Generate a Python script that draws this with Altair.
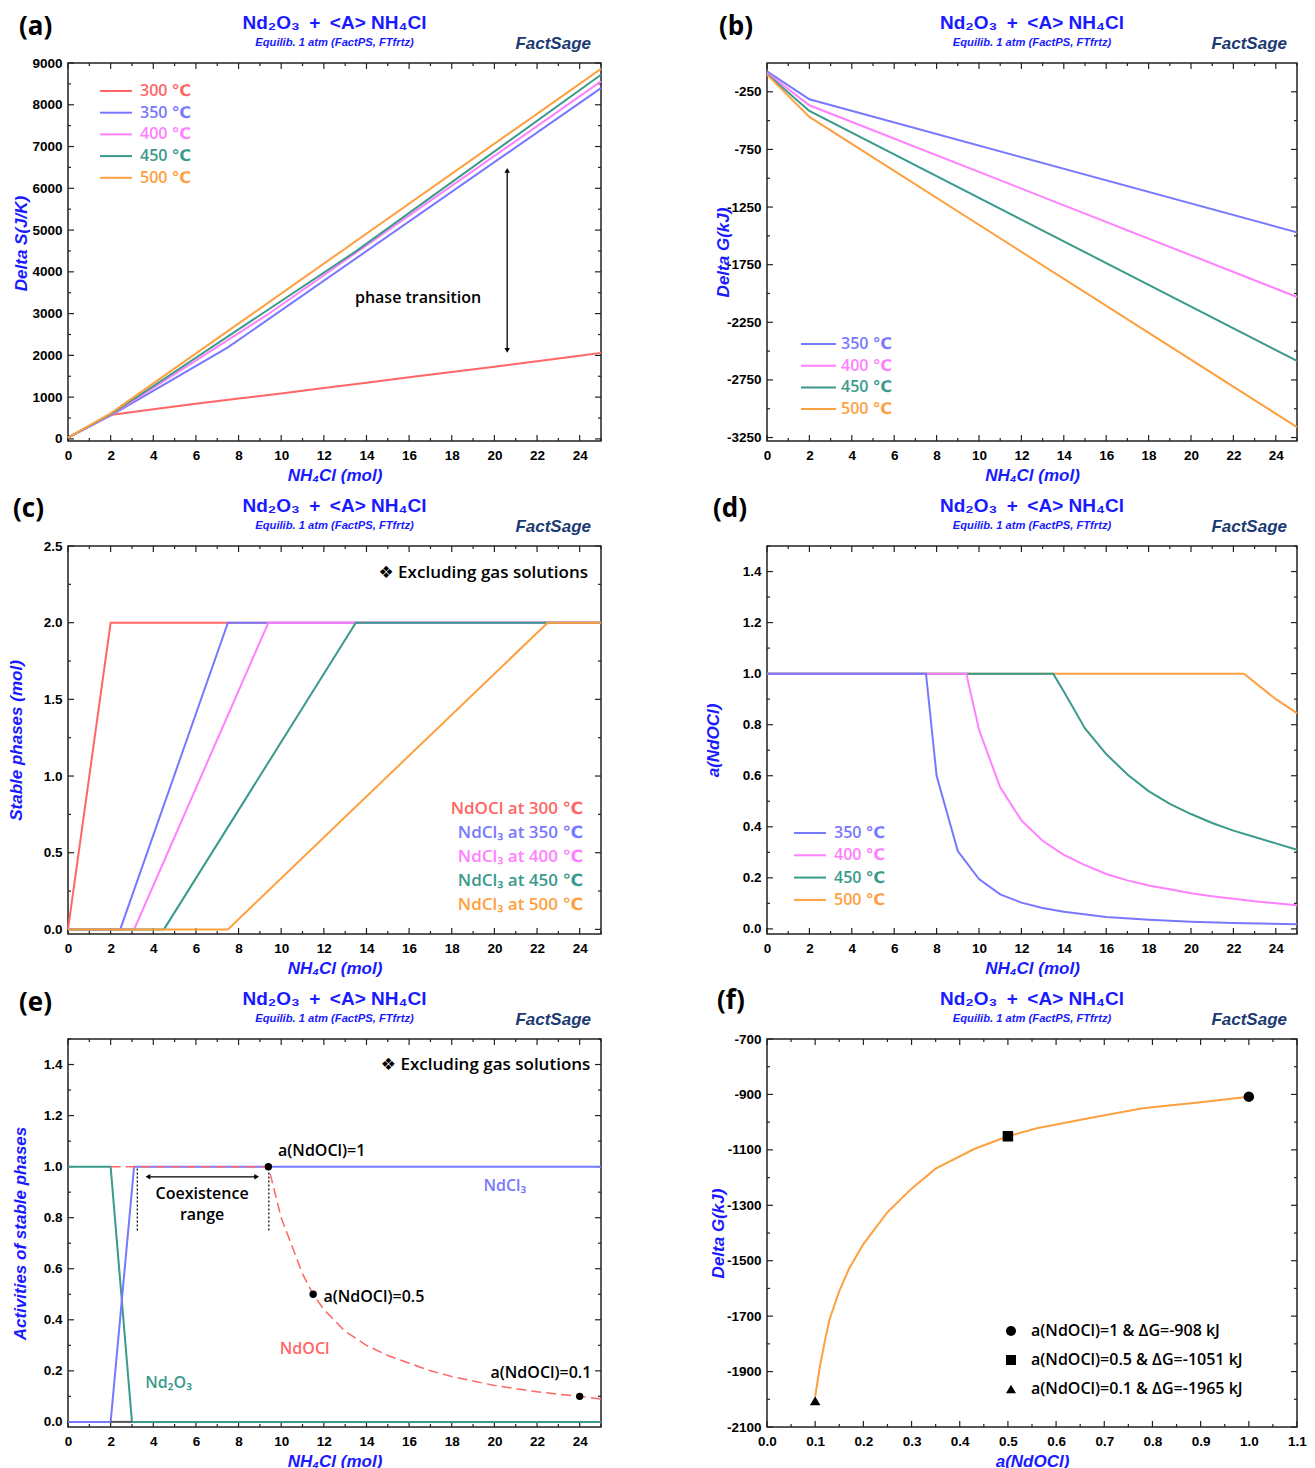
import altair as alt
import pandas as pd

# ---------------- data ----------------
TEMPS = ["300 ℃", "350 ℃", "400 ℃", "450 ℃", "500 ℃"]
COLORS = ["#ff6666", "#7878ff", "#ff80ff", "#3a9a8c", "#ffa040"]

# (a) Delta S (J/K) vs NH4Cl (mol)
A_X_300 = [0, 2, 4, 6, 8, 10, 12, 14, 16, 18, 20, 22, 24, 25]
A_S_300 = [30, 575, 710, 840, 965, 1090, 1220, 1345, 1475, 1600, 1730, 1860, 1990, 2060]
A_X_350 = [0, 2, 7.5, 25]
A_S_350 = [30, 560, 2190, 8400]
A_X_400 = [0, 2, 9.4, 25]
A_S_400 = [30, 570, 2990, 8560]
A_X_450 = [0, 2, 13.5, 25]
A_S_450 = [30, 585, 4490, 8720]
A_X_500 = [0, 2, 25]
A_S_500 = [30, 610, 8860]
A_ARROW_X = [20.6]
A_ARROW_Y = [2120, 6430]

# (b) Delta G (kJ) vs NH4Cl (mol)
B_X = [0, 2, 25]
B_G_350 = [-72, -315, -1470]
B_G_400 = [-85, -367, -2030]
B_G_450 = [-95, -416, -2585]
B_G_500 = [-101, -468, -3160]

# (c) stable phases (mol)
C_X_300 = [0, 2, 25]
C_N_300 = [0, 2, 2]
C_X_350 = [0, 2.45, 7.5, 25]
C_X_400 = [0, 3.1, 9.4, 25]
C_X_450 = [0, 4.5, 13.5, 25]
C_X_500 = [0, 7.5, 22.5, 25]
C_N_CL3 = [0, 0, 2, 2]
C_LABELS = ["NdOCl at 300 ℃", "NdCl₃ at 350 ℃", "NdCl₃ at 400 ℃", "NdCl₃ at 450 ℃", "NdCl₃ at 500 ℃"]

# (d) a(NdOCl)
D_X_350 = [0, 7.5, 8, 9, 10, 11, 12, 13, 14, 16, 18, 20, 22, 25]
D_A_350 = [1, 1, 0.6, 0.305, 0.195, 0.135, 0.103, 0.082, 0.067, 0.047, 0.036, 0.028, 0.023, 0.018]
D_X_400 = [0, 9.4, 10, 11, 12, 13, 14, 15, 16, 17, 18, 19, 20, 21, 22, 23, 24, 25]
D_A_400 = [1, 1, 0.78, 0.555, 0.425, 0.345, 0.29, 0.25, 0.215, 0.19, 0.17, 0.155,
           0.14, 0.128, 0.118, 0.108, 0.1, 0.093]
D_X_450 = [0, 13.5, 14, 15, 16, 17, 18, 19, 20, 21, 22, 23, 24, 25]
D_A_450 = [1, 1, 0.93, 0.785, 0.685, 0.605, 0.54, 0.49, 0.45, 0.415, 0.385, 0.36, 0.335, 0.31]
D_X_500 = [0, 22.5, 24, 25]
D_A_500 = [1, 1, 0.9, 0.845]

# (e) activities of stable phases at 400 C
E_X_ND2O3 = [0, 2, 3, 25]
E_A_ND2O3 = [1, 1, 0, 0]
E_X_NDCL3 = [0, 2, 3.1, 25]
E_A_NDCL3 = [0, 0, 1, 1]
E_X_OTHER = [2, 3]
E_A_OTHER = [0, 0]
E_X_NDOCL = [2, 9.4, 10, 11, 11.5, 12, 13, 14, 15, 16, 17, 18, 19, 20, 21, 22, 23, 24, 25]
E_A_NDOCL = [1, 1, 0.8, 0.58, 0.5, 0.44, 0.355, 0.3, 0.26, 0.23, 0.2, 0.178, 0.16,
             0.143, 0.13, 0.118, 0.108, 0.1, 0.09]
E_DOT_X = [9.4, 11.5, 24]
E_DOT_A = [1.0, 0.5, 0.1]
E_DOT_LABELS = ["a(NdOCl)=1", "a(NdOCl)=0.5", "a(NdOCl)=0.1"]
E_MARK_X = [3.25, 9.42]
E_MARK_A = [0.75, 1.0]
E_ARROW_X = [3.75, 8.85]
E_ARROW_A = [0.96]

# (f) Delta G vs a(NdOCl)
F_A = [0.1, 0.11, 0.12, 0.13, 0.15, 0.17, 0.2, 0.25, 0.3, 0.35, 0.43, 0.5, 0.56, 0.67, 0.78, 0.9, 1.0]
F_G = [-1990, -1880, -1790, -1710, -1610, -1530, -1440, -1325, -1240, -1168, -1097,
       -1051, -1022, -985, -950, -928, -908]
F_MARK_A = [1.0, 0.5, 0.1]
F_MARK_G = [-908, -1051, -2005]
F_MARK_SHAPES = ["circle", "square", "triangle-up"]
F_LABELS = ["a(NdOCl)=1 & ΔG=-908 kJ", "a(NdOCl)=0.5 & ΔG=-1051 kJ", "a(NdOCl)=0.1 & ΔG=-1965 kJ"]

TITLE = "Nd₂O₃\u2002+\u2002<A> NH₄Cl"
SUBTITLE = "Equilib. 1 atm (FactPS, FTfrtz)"
X_TITLE = "NH₄Cl (mol)"
EXCL = "❖ Excluding gas solutions"

# ---------------- style ----------------
BLUE = "#1a1aff"
NAVY = "#1b3a73"
AXF = "Liberation Sans"
TXF = "Open Sans, DejaVu Sans"
TXW = 600
W1, W2 = 533, 530
H1, H2, H3 = 378, 388, 388


class Panel:
    def __init__(self, W, H, xd, yd, xmaj, ymaj, xfmt, yfmt, xtitle, ytitle, ytx, yty=None):
        self.W, self.H = W, H
        self.xs = alt.Scale(domain=xd, nice=False, zero=False)
        self.ys = alt.Scale(domain=yd, nice=False, zero=False)
        common = dict(ticks=False, domain=False, grid=False, labelFont=AXF, labelFontSize=13.5,
                      labelFontWeight="bold", labelColor="black", labelFlush=False,
                      labelOverlap=False, titleFont=AXF, titleFontSize=17,
                      titleFontWeight="bold", titleFontStyle="italic", titleColor=BLUE,
                      titleAlign="center", titleBaseline="middle")
        xkw = dict(format=xfmt) if xfmt else dict(labelExpr="'' + datum.value")
        ykw = dict(format=yfmt) if yfmt else dict(labelExpr="'' + datum.value")
        self.xaxis = alt.Axis(values=xmaj, labelPadding=7, title=xtitle,
                              titleX=W / 2, titleY=34, **xkw, **common)
        self.yaxis = alt.Axis(values=ymaj, labelPadding=6, title=ytitle,
                              titleX=ytx, titleY=(H / 2 if yty is None else yty),
                              titleAngle=270, **ykw, **common)
        self.layers = []

    def X(self, f="x"):
        return alt.X(f + ":Q", scale=self.xs, axis=self.xaxis)

    def Y(self, f="y"):
        return alt.Y(f + ":Q", scale=self.ys, axis=self.yaxis)

    def line(self, xs, ys, color, dash=None, width=2):
        kw = dict(color=color, strokeWidth=width)
        if dash:
            kw["strokeDash"] = dash
        df = pd.DataFrame({"x": xs, "y": ys})
        self.layers.append(alt.Chart(df).mark_line(**kw).encode(x=self.X(), y=self.Y()))

    def ticks(self, xmaj, xmin, ymaj, ymin):
        H = self.H
        for vals, L in ((xmaj, 6), (xmin, 3)):
            df = pd.DataFrame({"x": vals})
            for y0, y1 in ((H, H - L), (0, L)):
                self.layers.append(alt.Chart(df).mark_rule(color="#222", strokeWidth=1.2).encode(
                    x=self.X(), y=alt.value(y0), y2=alt.value(y1)))
        W = self.W
        for vals, L in ((ymaj, 6), (ymin, 3)):
            df = pd.DataFrame({"y": vals})
            for x0, x1 in ((0, L), (W, W - L)):
                self.layers.append(alt.Chart(df).mark_rule(color="#222", strokeWidth=1.2).encode(
                    y=self.Y(), x=alt.value(x0), x2=alt.value(x1)))

    def text_px(self, text, x, y, color="black", size=16, align="left", font=TXF,
                weight=TXW, style="normal"):
        df = pd.DataFrame({"t": [text]})
        self.layers.append(alt.Chart(df).mark_text(
            align=align, baseline="middle", color=color, fontSize=size, font=font,
            fontWeight=weight, fontStyle=style).encode(x=alt.value(x), y=alt.value(y), text="t:N"))

    def text_data(self, text, x, y, color="black", size=16, align="left", font=TXF,
                  weight=TXW):
        df = pd.DataFrame({"x": [x], "y": [y], "t": [text]})
        self.layers.append(alt.Chart(df).mark_text(
            align=align, baseline="middle", color=color, fontSize=size, font=font,
            fontWeight=weight).encode(x=self.X(), y=self.Y(), text="t:N"))

    def legend_line(self, x1, x2, y, color):
        df = pd.DataFrame({"v": [0]})
        self.layers.append(alt.Chart(df).mark_rule(color=color, strokeWidth=2).encode(
            x=alt.value(x1), x2=alt.value(x2), y=alt.value(y)))

    def header(self, letter, lx, ly=-36):
        self.text_px(letter, lx, ly, size=26, weight="bold")
        self.text_px(TITLE, self.W / 2, -40, color=BLUE, size=19, align="center", font=AXF,
                     weight="bold")
        self.text_px(SUBTITLE, self.W / 2, -20, color=BLUE, size=11.2, align="center", font=AXF,
                     weight="bold", style="italic")
        self.text_px("FactSage", self.W - 10, -19, color=NAVY, size=17, align="right", font=AXF,
                     weight="bold", style="italic")

    def chart(self):
        return alt.layer(*self.layers).properties(width=self.W, height=self.H)


def rng(a, b, s):
    out, v = [], a
    while (s > 0 and v <= b + 1e-9) or (s < 0 and v >= b - 1e-9):
        out.append(round(v, 4))
        v += s
    return out


XMAJ = rng(0, 24, 2)
XMIN = rng(1, 25, 2)

# ---------------- panel (a) ----------------
pa = Panel(W1, H1, [0, 25], [-50, 9000], XMAJ, rng(0, 9000, 1000), "d", "d", X_TITLE,
           "Delta S(J/K)", -47, 180)
pa.ticks(XMAJ, XMIN, rng(0, 9000, 1000), rng(500, 8500, 1000))
for xs, ys, c in zip([A_X_300, A_X_350, A_X_400, A_X_450, A_X_500],
                     [A_S_300, A_S_350, A_S_400, A_S_450, A_S_500], COLORS):
    pa.line(xs, ys, c)
for i, (t, c) in enumerate(zip(TEMPS, COLORS)):
    yy = 28 + 21.7 * i
    pa.legend_line(32, 64, yy, c)
    pa.text_px(t, 72, yy, color=c, size=16)
pa.text_data("phase transition", 16.42, 3381, align="center", size=16)
arr = pd.DataFrame({"x": A_ARROW_X, "y": [A_ARROW_Y[0]], "y2": [A_ARROW_Y[1]]})
pa.layers.append(alt.Chart(arr).mark_rule(color="black", strokeWidth=1.3).encode(
    x=pa.X(), y=pa.Y(), y2="y2:Q"))
pa.layers.append(alt.Chart(pd.DataFrame({"x": A_ARROW_X, "y": [A_ARROW_Y[1]]})).mark_point(
    shape="triangle-up", filled=True, color="black", size=30, opacity=1).encode(x=pa.X(), y=pa.Y()))
pa.layers.append(alt.Chart(pd.DataFrame({"x": A_ARROW_X, "y": [A_ARROW_Y[0]]})).mark_point(
    shape="triangle-down", filled=True, color="black", size=30, opacity=1).encode(x=pa.X(), y=pa.Y()))
pa.header("(a)", -49)
# anchor for the page's top-left corner
pa.layers.append(alt.Chart(pd.DataFrame({"v": [0]})).mark_rule(color="white", strokeWidth=1).encode(
    x=alt.value(-66.5), x2=alt.value(-66.5), y=alt.value(-61.5), y2=alt.value(-61.5)))

# ---------------- panel (b) ----------------
pb = Panel(W2, H1, [0, 25], [-3280, 0], XMAJ, rng(-250, -3250, -500), "d", None, X_TITLE,
           "Delta G(kJ)", -44)
pb.ticks(XMAJ, XMIN, rng(-250, -3250, -500), rng(-500, -3000, -500))
for ys, c in zip([B_G_350, B_G_400, B_G_450, B_G_500], COLORS[1:]):
    pb.line(B_X, ys, c)
for i, (t, c) in enumerate(zip(TEMPS[1:], COLORS[1:])):
    yy = 281 + 21.7 * i
    pb.legend_line(34, 69, yy, c)
    pb.text_px(t, 74, yy, color=c, size=16)
pb.header("(b)", -48)

# ---------------- panel (c) ----------------
pc = Panel(W1, H2, [0, 25], [-0.03, 2.5], XMAJ, rng(0, 2.5, 0.5), "d", ".1f", X_TITLE,
           "Stable phases (mol)", -52)
pc.ticks(XMAJ, XMIN, rng(0, 2.5, 0.5), rng(0.25, 2.25, 0.5))
pc.line(C_X_300, C_N_300, COLORS[0])
for xs, c in zip([C_X_350, C_X_400, C_X_450, C_X_500], COLORS[1:]):
    pc.line(xs, C_N_CL3, c)
for i, (t, c) in enumerate(zip(C_LABELS, COLORS)):
    pc.text_px(t, 515, 263 + 24 * i, color=c, size=17, align="right")
pc.text_data(EXCL, 24.39, 2.324, align="right", size=17)
pc.header("(c)", -55, -37)

# ---------------- panel (d) ----------------
pd_ = Panel(W2, H2, [0, 25], [-0.02, 1.5], XMAJ, rng(0, 1.4, 0.2), "d", ".1f", X_TITLE,
            "a(NdOCl)", -54)
pd_.ticks(XMAJ, XMIN, rng(0, 1.4, 0.2), rng(0.1, 1.5, 0.2))
for xs, ys, c in zip([D_X_500, D_X_450, D_X_400, D_X_350],
                     [D_A_500, D_A_450, D_A_400, D_A_350], COLORS[:0:-1]):
    pd_.line(xs, ys, c)
for i, (t, c) in enumerate(zip(TEMPS[1:], COLORS[1:])):
    yy = 287 + 22.3 * i
    pd_.legend_line(27, 59, yy, c)
    pd_.text_px(t, 67, yy, color=c, size=16)
pd_.header("(d)", -54, -37)

# ---------------- panel (e) ----------------
pe = Panel(W1, H3, [0, 25], [-0.02, 1.5], XMAJ, rng(0, 1.4, 0.2), "d", ".1f", X_TITLE,
           "Activities of stable phases", -48)
pe.ticks(XMAJ, XMIN, rng(0, 1.4, 0.2), rng(0.1, 1.5, 0.2))
pe.line(E_X_ND2O3, E_A_ND2O3, COLORS[3])
pe.line(E_X_NDCL3, E_A_NDCL3, COLORS[1])
pe.line(E_X_OTHER, E_A_OTHER, "#555555")
pe.line(E_X_NDOCL, E_A_NDOCL, COLORS[0], dash=[10, 5], width=1.5)
for xm in E_MARK_X:
    dfm = pd.DataFrame({"x": [xm], "y": [E_MARK_A[0]], "y2": [E_MARK_A[1]]})
    pe.layers.append(alt.Chart(dfm).mark_rule(color="black", strokeWidth=1.2, strokeDash=[2, 2]).encode(
        x=pe.X(), y=pe.Y(), y2="y2:Q"))
dfa = pd.DataFrame({"x": [E_ARROW_X[0]], "x2": [E_ARROW_X[1]], "y": E_ARROW_A})
pe.layers.append(alt.Chart(dfa).mark_rule(color="black", strokeWidth=1.3).encode(
    x=pe.X(), x2="x2:Q", y=pe.Y()))
pe.layers.append(alt.Chart(pd.DataFrame({"x": [E_ARROW_X[0]], "y": E_ARROW_A})).mark_point(
    shape="triangle-left", filled=True, color="black", size=30, opacity=1).encode(x=pe.X(), y=pe.Y()))
pe.layers.append(alt.Chart(pd.DataFrame({"x": [E_ARROW_X[1]], "y": E_ARROW_A})).mark_point(
    shape="triangle-right", filled=True, color="black", size=30, opacity=1).encode(x=pe.X(), y=pe.Y()))
pe.layers.append(alt.Chart(pd.DataFrame({"x": E_DOT_X, "y": E_DOT_A})).mark_point(
    shape="circle", filled=True, color="black", size=55, opacity=1).encode(x=pe.X(), y=pe.Y()))
pe.text_data(E_DOT_LABELS[0], 9.85, 1.06)
pe.text_data(E_DOT_LABELS[1], 11.98, 0.49)
pe.text_data(E_DOT_LABELS[2], 24.55, 0.19, align="right")
pe.text_data("Coexistence", 6.29, 0.893, align="center")
pe.text_data("range", 6.29, 0.81, align="center")
pe.text_data("NdCl₃", 20.49, 0.924, color=COLORS[1], align="center")
pe.text_data("NdOCl", 11.1, 0.285, color=COLORS[0], align="center")
pe.text_data("Nd₂O₃", 4.72, 0.153, color=COLORS[3], align="center")
pe.text_data(EXCL, 24.5, 1.40, align="right", size=17)
pe.header("(e)", -49)

# ---------------- panel (f) ----------------
pf = Panel(W2, H3, [0, 1.1], [-2100, -700], rng(0, 1.1, 0.1), rng(-700, -2100, -200), ".1f", None,
           "a(NdOCl)", "Delta G(kJ)", -49)
pf.ticks(rng(0, 1.1, 0.1), rng(0.05, 1.05, 0.1), rng(-700, -2100, -200), rng(-800, -2000, -200))
pf.line(F_A, F_G, COLORS[4])
for a, g, s in zip(F_MARK_A, F_MARK_G, F_MARK_SHAPES):
    pf.layers.append(alt.Chart(pd.DataFrame({"x": [a], "y": [g]})).mark_point(
        shape=s, filled=True, color="black", size=110, opacity=1).encode(x=pf.X(), y=pf.Y()))
for i, (t, s) in enumerate(zip(F_LABELS, F_MARK_SHAPES)):
    yy = 292 + 29 * i
    pf.layers.append(alt.Chart(pd.DataFrame({"v": [0]})).mark_point(
        shape=s, filled=True, color="black", size=100, opacity=1).encode(
        x=alt.value(244), y=alt.value(yy)))
    pf.text_px(t, 264, yy, size=16)
pf.header("(f)", -50, -38)

chart = alt.concat(pa.chart(), pb.chart(), pc.chart(), pd_.chart(), pe.chart(), pf.chart(),
                   columns=2, spacing={"row": 105, "column": 166}, bounds="flush",
                   padding=0, background="white"
                   ).configure_view(stroke="#222", strokeWidth=1.5)

chart.save("out.html", embed_options={"renderer": "svg", "actions": False})
